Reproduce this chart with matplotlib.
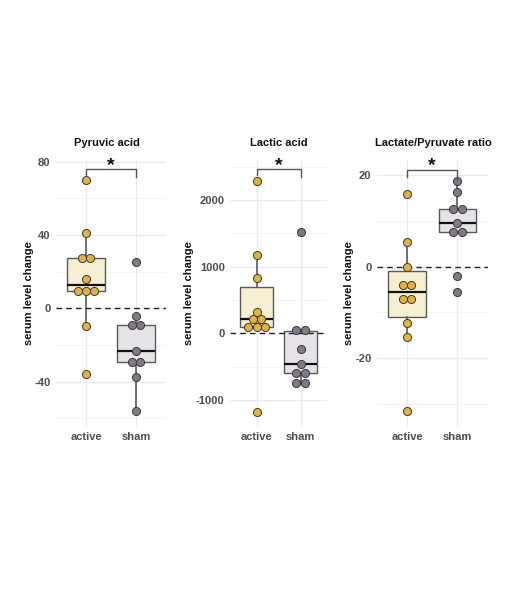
import numpy as np
import matplotlib.pyplot as plt
from matplotlib.transforms import offset_copy

plt.rcParams['font.family'] = ['Liberation Sans', 'DejaVu Sans']
plt.rcParams['axes.unicode_minus'] = False

groups = ['active', 'sham']
titles = ['Pyruvic acid', 'Lactic acid', 'Lactate/Pyruvate ratio']

pyr_active = [70, 41, 27.5, 27.5, 16, 9.5, 9.5, 9.5, -9.5, -36]
pyr_sham = [25, -4, -9, -9, -23.5, -29.5, -29.5, -37.5, -56]

lac_active = [2285, 1175, 825, 315, 215, 215, 100, 100, 100, -1175]
lac_sham = [1525, 55, 30, -240, -455, -580, -600, -740, -760]

ratio_active = [15.8, 5.3, 0, -4, -4, -7.1, -7.1, -12.2, -15.3, -31.6]
ratio_sham = [18.8, 16.4, 12.6, 12.6, 9.5, 7.6, 7.6, -2, -5.6]

yticks = [[-40, 0, 40, 80], [-1000, 0, 1000, 2000], [-20, 0, 20]]
yminor = [[-60, -20, 20, 60], [-500, 500, 1500, 2500], [-30, -10, 10]]
ylims = [(-64.5, 80.9), (-1398, 2600), (-34.9, 23.3)]

# significance bracket: height, left tip end, right tip end
sig = [(76, 72.7, 71.8), (2460, 2380, 2340), (21.2, 19.6, 19.0)]

# layout in pixels (figure 514 x 600)
W, H = 514, 600
top, bottom = 160, 426.5
lefts = [56, 230.3, 377]
widths = [110, 96.7, 110.5]
ylab_x = [-0.2, -0.375, -0.204]
title_x = [0.466, 0.5, 0.51]

c_fill = ['#F6EFD2', '#E5E3E8']
c_dot = ['#E3B341', '#837889']
dot_px = 8.3

data = [(pyr_active, pyr_sham), (lac_active, lac_sham), (ratio_active, ratio_sham)]

fig = plt.figure(figsize=(W / 100, H / 100), dpi=100)

for i in range(3):
    ax = fig.add_axes([lefts[i] / W, (H - bottom) / H, widths[i] / W, (bottom - top) / H])
    lo, hi = ylims[i]
    ax.set_xlim(0.4, 2.6)
    ax.set_ylim(lo, hi)

    for y in yminor[i]:
        ax.axhline(y, color='#F3F3F3', lw=0.6, zorder=0)
    for y in yticks[i]:
        ax.axhline(y, color='#EBEBEB', lw=0.9, zorder=0)
    for x in [1, 2]:
        ax.axvline(x, color='#EBEBEB', lw=0.9, zorder=0)

    bp = ax.boxplot(data[i], positions=[1, 2], widths=0.75, patch_artist=True,
                    showfliers=False, showcaps=False, whis=1.5,
                    boxprops=dict(edgecolor='#5a5a5a', linewidth=1.0),
                    whiskerprops=dict(color='#666666', linewidth=1.3),
                    medianprops=dict(color='#111111', linewidth=1.6))
    for patch, col in zip(bp['boxes'], c_fill):
        patch.set_facecolor(col)
        patch.set_zorder(1)

    ax.axhline(0, color='#222222', lw=1.0, ls=(0, (4, 3)), zorder=2)

    # dot stacking (like geom_dotplot, centred)
    px_per_y = (bottom - top) / (hi - lo)
    x_step = dot_px * 2.2 / widths[i]
    thr = 0.5 * dot_px / px_per_y
    for g, vals in enumerate(data[i]):
        v = sorted(vals)
        bins = [[v[0]]]
        for val in v[1:]:
            if val - bins[-1][0] < thr:
                bins[-1].append(val)
            else:
                bins.append([val])
        xs, ys = [], []
        for b in bins:
            n = len(b)
            for k in range(n):
                xs.append(g + 1 + (k - (n - 1) / 2) * x_step)
                ys.append(np.mean(b))
        ax.scatter(xs, ys, s=34, color=c_dot[g], edgecolor='#3a3a3a', linewidth=0.7, zorder=3)

    sy, t1, t2 = sig[i]
    ax.plot([1, 1, 2, 2], [t1, sy, sy, t2], color='#555555', lw=1.0, zorder=3, clip_on=False)
    star_tr = offset_copy(ax.transData, fig=fig, x=0, y=-3.5, units='points')
    ax.text(1.5, sy, '*', ha='center', va='bottom', fontsize=14, fontweight='bold',
            color='#111111', clip_on=False, transform=star_tr)

    ax.set_xticks([1, 2])
    ax.set_xticklabels(groups)
    ax.set_yticks(yticks[i])
    ax.tick_params(length=0, labelsize=8, labelcolor='#4D4D4D', pad=4)
    for lab in ax.get_xticklabels() + ax.get_yticklabels():
        lab.set_fontweight('bold')
    for s in ax.spines.values():
        s.set_visible(False)

    ax.set_ylabel('serum level change', fontsize=8, fontweight='bold', color='#111111')
    ax.yaxis.set_label_coords(ylab_x[i], 0.5)
    ax.set_title(titles[i], fontsize=8, fontweight='bold', color='#111111', pad=10, x=title_x[i])

fig.savefig('out.png', dpi=100)
